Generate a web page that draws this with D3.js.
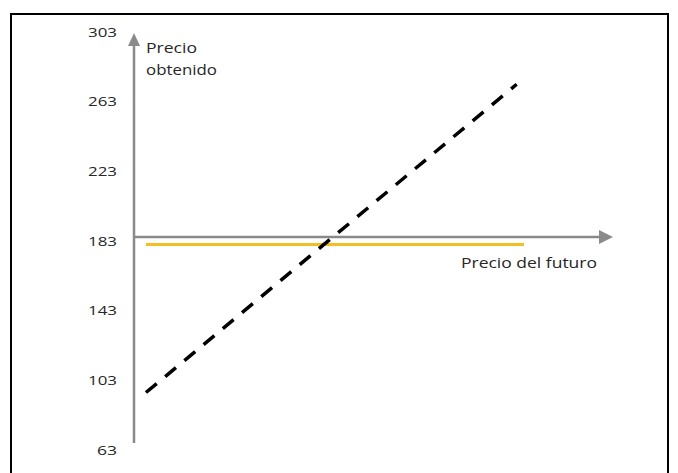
<!DOCTYPE html>
<html>
<head>
<meta charset="utf-8">
<script src="https://cdn.jsdelivr.net/npm/d3@7"></script>
<style>
  html, body { margin: 0; padding: 0; background: #fff; }
  svg { display: block; }
  text { font-family: "Open Sans", Lato, sans-serif; fill: #262626; }
</style>
</head>
<body>
<svg id="chart" width="678" height="473"></svg>
<script>
// Price axis ticks (obtained price)
const yTicks = [63, 103, 143, 183, 223, 263, 303];

// Unhedged position: obtained price follows the futures price
const futuresPrice = [96, 273];
const obtainedUnhedged = [96, 273];

// Hedged position: obtained price stays fixed
const hedgedFutures = [96, 276.5];
const obtainedHedged = [181, 181];

// Where the horizontal (futures price) axis crosses the price axis
const axisCross = 185.3;
const futuresRange = [90.3, 319];

const svg = d3.select("#chart");

const y = d3.scaleLinear().domain([63, 303]).range([450, 32]);
const x = d3.scaleLinear().domain(futuresRange).range([134, 613]);

// outer frame
svg.append("path")
  .attr("d", "M11,473 L11,14 L668,14 L668,473")
  .attr("fill", "none")
  .attr("stroke", "#000")
  .attr("stroke-width", 2);

// tick labels
const tickWidths = v => (String(v).length === 2 ? 20 : 29);
svg.append("g").selectAll("text")
  .data(yTicks)
  .join("text")
  .attr("x", 117)
  .attr("y", d => y(d))
  .attr("dy", "0.36em")
  .attr("text-anchor", "end")
  .attr("font-size", 13)
  .attr("textLength", d => tickWidths(d))
  .attr("lengthAdjust", "spacingAndGlyphs")
  .text(d => d);

const axisColor = "#8a8a8a";

// vertical axis with arrow
svg.append("line")
  .attr("x1", x(futuresRange[0])).attr("x2", x(futuresRange[0]))
  .attr("y1", 443).attr("y2", 44)
  .attr("stroke", axisColor).attr("stroke-width", 2.5);
svg.append("path")
  .attr("d", `M${x(futuresRange[0]) - 6},46 L${x(futuresRange[0])},33 L${x(futuresRange[0]) + 6},46 Z`)
  .attr("fill", axisColor);

// horizontal axis with arrow
const yAxis = y(axisCross);
svg.append("line")
  .attr("x1", x(futuresRange[0])).attr("x2", x(futuresRange[1]) - 12)
  .attr("y1", yAxis).attr("y2", yAxis)
  .attr("stroke", axisColor).attr("stroke-width", 2.5);
svg.append("path")
  .attr("d", `M${x(futuresRange[1]) - 14},${yAxis - 7} L${x(futuresRange[1])},${yAxis} L${x(futuresRange[1]) - 14},${yAxis + 7} Z`)
  .attr("fill", axisColor);

// hedged line
const line = d3.line().x(d => x(d[0])).y(d => y(d[1]));
svg.append("path")
  .attr("d", line(d3.zip(hedgedFutures, obtainedHedged)))
  .attr("fill", "none")
  .attr("stroke", "#F2BE22")
  .attr("stroke-width", 3);

// unhedged line
svg.append("path")
  .attr("d", line(d3.zip(futuresPrice, obtainedUnhedged)))
  .attr("fill", "none")
  .attr("stroke", "#000")
  .attr("stroke-width", 3.5)
  .attr("stroke-dasharray", "14,11");

// axis titles
svg.append("text").attr("x", 146).attr("y", 53).attr("font-size", 14)
  .attr("textLength", 51).attr("lengthAdjust", "spacingAndGlyphs").text("Precio");
svg.append("text").attr("x", 146).attr("y", 75).attr("font-size", 14)
  .attr("textLength", 71).attr("lengthAdjust", "spacingAndGlyphs").text("obtenido");
svg.append("text").attr("x", 461).attr("y", 268).attr("font-size", 14)
  .attr("textLength", 136).attr("lengthAdjust", "spacingAndGlyphs").text("Precio del futuro");
</script>
</body>
</html>
